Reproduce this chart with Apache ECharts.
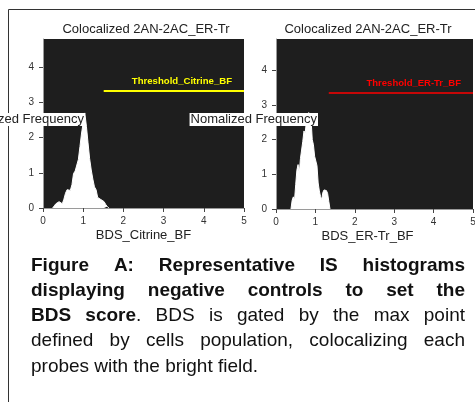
<!DOCTYPE html>
<html>
<head>
<meta charset="utf-8">
<script src="https://cdn.jsdelivr.net/npm/echarts@6/dist/echarts.min.js"></script>
<style>
  html, body { margin: 0; padding: 0; background: #fff; }
  #main { width: 475px; height: 402px; }
</style>
</head>
<body>
<div id="main"></div>
<script>
// histogram values (x = BDS score, y = normalized frequency)
const citrineBins = [0.24, 0.28, 0.32, 0.36, 0.40, 0.44, 0.48, 0.52, 0.56, 0.60, 0.64, 0.68, 0.72, 0.76, 0.80, 0.84, 0.88, 0.92, 0.96, 1.00, 1.04, 1.08, 1.12, 1.16, 1.20, 1.24, 1.28, 1.32, 1.36, 1.40, 1.44, 1.48, 1.52, 1.56, 1.60, 1.64];
const citrineFreq = [0, 0.06, 0.12, 0.17, 0.18, 0.15, 0.12, 0.25, 0.42, 0.52, 0.50, 0.50, 0.66, 0.98, 1.05, 1.10, 1.38, 1.75, 2.13, 2.42, 2.70, 2.32, 1.85, 1.40, 1.08, 0.82, 0.60, 0.52, 0.30, 0.25, 0.24, 0.20, 0.18, 0.10, 0.04, 0];

const erTrBins = [0.38, 0.41, 0.44, 0.47, 0.50, 0.53, 0.56, 0.59, 0.62, 0.65, 0.68, 0.71, 0.74, 0.77, 0.80, 0.83, 0.86, 0.89, 0.92, 0.95, 0.98, 1.01, 1.04, 1.07, 1.10, 1.13, 1.16, 1.19, 1.22, 1.25, 1.28, 1.31, 1.34, 1.37];
const erTrFreq = [0, 0.25, 0.35, 0.25, 0.70, 1.12, 1.28, 1.02, 1.45, 1.70, 1.95, 2.25, 2.18, 2.50, 2.45, 2.78, 2.45, 2.58, 2.00, 1.85, 1.52, 1.52, 1.25, 0.75, 0.52, 0.36, 0.27, 0.48, 0.55, 0.57, 0.53, 0.45, 0.22, 0];

// threshold gates: [start x, level y]
const citrineThreshold = [1.51, 3.33];
const erTrThreshold = [1.34, 3.36];
const thresholdNames = ['Threshold_Citrine_BF', 'Threshold_ER-Tr_BF'];

const xTicks = [0, 1, 2, 3, 4, 5];
const yTicks = [0, 1, 2, 3, 4];
const yMax = [4.8, 4.9];

const panelTitles = ['Colocalized 2AN-2AC_ER-Tr', 'Colocalized 2AN-2AC_ER-Tr'];
const xNames = ['BDS_Citrine_BF', 'BDS_ER-Tr_BF'];
const yNames = ['Normalized Frequency', 'Nomalized Frequency'];

const captionLines = [
  '**Figure A: Representative IS histograms**',
  '**displaying negative controls to set the**',
  '**BDS score**. BDS is gated by the max point',
  'defined by cells population, colocalizing each',
  'probes with the bright field.'
];
const captionJustify = [true, true, true, true, false];

const FONT = '"Liberation Sans", Arial, sans-serif';
const CAP_SIZE = 19;

function zip(xs, ys) {
  return xs.map((x, i) => [x, ys[i]]);
}

// split a caption line into words, each word a list of {t, b} pieces
function parseLine(s) {
  const words = [];
  let bold = false, cur = [], buf = '';
  const flush = () => { if (buf) { cur.push({ t: buf, b: bold }); buf = ''; } };
  for (let i = 0; i < s.length; i++) {
    if (s[i] === '*' && s[i + 1] === '*') { flush(); bold = !bold; i++; continue; }
    if (s[i] === ' ') { flush(); if (cur.length) words.push(cur); cur = []; continue; }
    buf += s[i];
  }
  flush();
  if (cur.length) words.push(cur);
  return words;
}

const ctx = document.createElement('canvas').getContext('2d');
function fontOf(b) { return (b ? 'bold ' : '') + CAP_SIZE + 'px ' + FONT; }
function measure(t, b) { ctx.font = fontOf(b); return ctx.measureText(t).width; }

function captionGraphics() {
  const L = 31, R = 465, base = 265.5, step = 25.2;
  const out = [];
  captionLines.forEach((line, li) => {
    const words = parseLine(line);
    const widths = words.map(w => w.reduce((s, p) => s + measure(p.t, p.b), 0));
    const total = widths.reduce((a, b) => a + b, 0);
    const gap = captionJustify[li] && words.length > 1
      ? (R - L - total) / (words.length - 1)
      : measure(' ', false);
    let x = L;
    words.forEach((w, wi) => {
      let px = x;
      w.forEach(p => {
        out.push({
          type: 'text', x: px, y: base + li * step, silent: true,
          style: { text: p.t, font: fontOf(p.b), fill: '#111', align: 'left', verticalAlign: 'middle' }
        });
        px += measure(p.t, p.b);
      });
      x += widths[wi] + gap;
    });
  });
  return out;
}

function histSeries(idx, bins, freq, thr, color, lineW, labelSize) {
  return {
    type: 'line',
    xAxisIndex: idx,
    yAxisIndex: idx,
    data: zip(bins, freq),
    showSymbol: false,
    symbol: 'none',
    lineStyle: { color: '#ffffff', width: 1 },
    areaStyle: { color: '#ffffff', opacity: 1 },
    markLine: {
      silent: true,
      symbol: 'none',
      animation: false,
      lineStyle: { color: color, width: lineW, type: 'solid' },
      label: {
        show: true,
        position: 'insideEndTop',
        formatter: thresholdNames[idx],
        color: color,
        fontWeight: 'bold',
        fontSize: labelSize,
        fontFamily: FONT,
        distance: [12, 4]
      },
      data: [[{ coord: [thr[0], thr[1]] }, { coord: [xTicks[xTicks.length - 1], thr[1]] }]]
    }
  };
}

const grids = [
  { left: 43, top: 39, width: 201, height: 169 },
  { left: 276, top: 39, width: 197, height: 170 }
];

// y axis titles sit level in a white box, running from left of the axis into the plot
const yNameGraphics = grids.map((g, i) => ({
  type: 'text', silent: true, z: 20,
  x: g.left + 42, y: 119.5,
  style: {
    text: yNames[i], font: '13px ' + FONT, fill: '#222',
    align: 'right', verticalAlign: 'middle',
    backgroundColor: '#ffffff', padding: [0, 1, 0, 1], lineHeight: 13
  }
}));

const chart = echarts.init(document.getElementById('main'), null, { renderer: 'canvas' });

const option = {
  animation: false,
  backgroundColor: '#ffffff',
  textStyle: { fontFamily: FONT },
  title: [
    { text: panelTitles[0], left: 146, top: 23, textAlign: 'center', padding: 0,
      textStyle: { fontSize: 13, fontWeight: 'normal', color: '#222', fontFamily: FONT } },
    { text: panelTitles[1], left: 368, top: 23, textAlign: 'center', padding: 0,
      textStyle: { fontSize: 13, fontWeight: 'normal', color: '#222', fontFamily: FONT } }
  ],
  grid: grids.map(g => Object.assign({
    show: true,
    backgroundColor: '#1e1e1e',
    borderWidth: 0,
    containLabel: false,
    outerBoundsMode: 'none'
  }, g)),
  xAxis: [0, 1].map(i => ({
    type: 'value',
    gridIndex: i,
    min: xTicks[0],
    max: xTicks[xTicks.length - 1],
    interval: 1,
    name: xNames[i],
    nameLocation: 'middle',
    nameGap: 21,
    nameTextStyle: { fontSize: 13, color: '#222', fontFamily: FONT, padding: i === 1 ? [0, 14, 0, 0] : 0 },
    axisLine: { show: true, lineStyle: { color: '#9a9a9a', width: 1 } },
    axisTick: { show: true, length: 4, lineStyle: { color: '#444' } },
    axisLabel: { fontSize: 10, color: '#333', margin: 8, fontFamily: FONT },
    splitLine: { show: false }
  })),
  yAxis: [0, 1].map(i => ({
    type: 'value',
    gridIndex: i,
    min: 0,
    max: yMax[i],
    interval: 1,
    axisLine: { show: true, lineStyle: { color: '#9a9a9a', width: 1 } },
    axisTick: { show: true, length: 4, lineStyle: { color: '#444' }, customValues: yTicks },
    axisLabel: { fontSize: 10, color: '#333', margin: 9, fontFamily: FONT, customValues: yTicks },
    splitLine: { show: false }
  })),
  series: [
    histSeries(0, citrineBins, citrineFreq, citrineThreshold, '#ffff00', 2, 9.6),
    histSeries(1, erTrBins, erTrFreq, erTrThreshold, '#ff0000', 1.5, 9.5)
  ],
  graphic: [
    {
      type: 'rect', silent: true, z: -10,
      shape: { x: 8.5, y: 9.5, width: 500, height: 420 },
      style: { fill: 'none', stroke: '#333', lineWidth: 1 }
    }
  ].concat(yNameGraphics, captionGraphics())
};

chart.setOption(option);
</script>
</body>
</html>
